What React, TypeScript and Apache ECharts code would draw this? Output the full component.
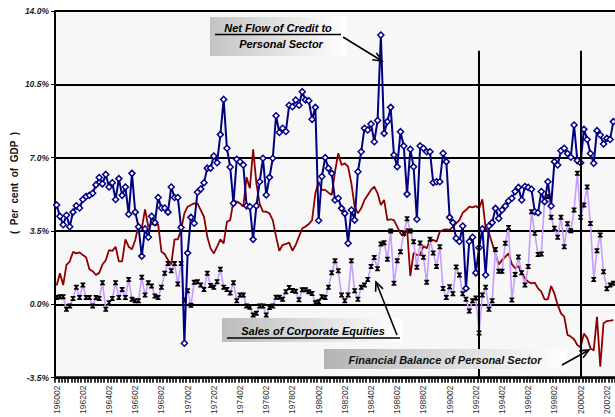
import React, { useEffect, useRef } from "react";
import * as echarts from "echarts";

// ---- categories: quarters 1960Q2 .. 2002Q4, labelled YYYY0Q ----
const START_YEAR = 1960;
const START_QUARTER = 2;
const QUARTER_COUNT = 171;
const categories: string[] = [];
for (let i = 0; i < QUARTER_COUNT; i++) {
  const q = START_QUARTER - 1 + i;
  categories.push(`${START_YEAR + Math.floor(q / 4)}0${(q % 4) + 1}`);
}

const yTicks = [-3.5, 0, 3.5, 7, 10.5, 14];

// Net Flow of Credit to Personal Sector (% of GDP)
const netCredit = [
  4.74, 4.2, 3.8, 4.25, 3.7, 4.4, 4.7, 4.6, 5.0, 5.15,
  5.2, 5.3, 5.7, 6.05, 5.75, 6.2, 5.6, 5.8, 5.0, 6.0,
  5.2, 5.6, 4.3, 6.25, 4.4, 3.7, 2.3, 3.6, 3.2, 4.2,
  3.9, 5.1, 4.6, 4.6, 4.4, 5.6, 5.1, 5.1, 3.67, -1.86,
  2.45, 4.15, 3.87, 5.35, 5.5, 5.8, 6.5, 6.5, 7.08, 6.76,
  8.1, 9.78, 7.45, 6.55, 4.82, 6.92, 6.8, 6.65, 4.7, 4.66,
  3.1, 4.7, 5.85, 6.97, 5.22, 6.06, 6.97, 9.0, 8.2, 8.4,
  8.25, 9.5, 9.43, 9.75, 9.5, 10.15, 9.75, 9.72, 8.83, 9.4,
  4.0, 6.1, 7.0, 6.49, 6.25, 4.98, 5.06, 4.58, 4.34, 2.91,
  4.5, 4.02, 6.33, 7.28, 8.4, 8.32, 8.61, 7.76, 8.77, 12.85,
  8.16, 8.72, 9.4, 7.13, 6.57, 8.24, 7.56, 5.26, 7.4, 6.57,
  4.06, 7.56, 7.45, 7.28, 7.28, 5.81, 5.85, 5.85, 7.21, 6.81,
  4.15, 3.9, 3.15, 3.0, 3.74, 0.76, 3.0, 3.2, 1.5, 2.7,
  3.6, 1.4, 3.74, 3.9, 4.58, 4.1, 4.5, 4.69, 4.93, 5.06,
  5.38, 5.58, 4.98, 5.62, 5.58, 5.49, 4.42, 4.37, 5.38, 4.9,
  5.85, 4.69, 6.81, 6.65, 7.33, 7.45, 7.2, 7.02, 8.56, 6.86,
  6.76, 8.35, 7.87, 7.2, 6.73, 8.29, 8.08, 7.65, 7.92, 7.87,
  8.72,
];

// Financial Balance of Personal Sector (% of GDP)
const financialBalance = [
  0.9, 1.48, 0.92, 1.88, 2.04, 2.5, 2.43, 2.48, 2.35, 2.25,
  1.67, 1.58, 1.4, 1.5, 1.9, 2.1, 2.59, 2.55, 2.75, 2.05,
  2.05, 3.1, 2.75, 2.62, 3.07, 3.78, 3.62, 4.53, 3.7, 3.85,
  3.78, 3.83, 2.51, 2.4, 2.11, 1.9, 3.1, 3.1, 3.54, 4.34,
  4.66, 4.74, 4.82, 4.82, 4.5, 4.18, 3.23, 2.67, 2.43, 2.75,
  3.1, 2.91, 3.94, 4.02, 4.95, 4.9, 4.82, 4.66, 6.06, 5.54,
  7.4, 5.77, 4.79, 4.42, 4.42, 4.34, 4.02, 3.23, 2.56, 2.83,
  2.88, 2.94, 2.56, 2.83, 3.23, 3.63, 3.71, 3.83, 4.02, 5.3,
  5.85, 5.46, 5.46, 5.33, 5.22, 6.33, 7.21, 6.65, 6.73, 6.57,
  5.77, 4.66, 4.34, 4.58, 4.98, 5.22, 5.46, 5.62, 5.3, 4.74,
  4.98, 4.02, 4.06, 4.02, 3.71, 3.39, 3.23, 3.63, 1.35, 2.46,
  2.35, 2.35, 2.78, 2.67, 3.07, 3.07, 2.99, 3.47, 3.55, 3.58,
  3.55, 3.7, 3.86, 4.02, 4.37, 4.5, 4.66, 4.63, 4.69, 4.58,
  5.01, 3.63, 3.4, 2.9, 2.4, 1.9, 2.11, 2.27, 2.43, 1.92,
  1.72, 1.83, 1.48, 1.24, 1.08, 1.0, 1.03, 0.76, 0.6, 0.24,
  0.24, 0.87, 0.52, -0.03, -0.43, -0.59, -1.46, -1.54, -1.67, -1.94,
  -2.05, -1.4, -1.6, -2.1, -2.2, -0.6, -2.98, -0.9, -0.8, -0.78,
  -0.75,
];

// Sales of Corporate Equities (% of GDP)
const corporateEquities = [
  0.33, 0.36, 0.36, -0.24, -0.08, 0.28, 0.81, 0.33, 0.92, 0.33,
  0.33, -0.08, 0.33, 0.28, 1.03, -0.24, 0.08, 0.28, 1.03, 0.33,
  0.71, 0.33, 1.19, 0.24, 0.17, 0.17, 1.29, 0.44, 1.03, 0.87,
  0.4, 0.33, 0.81, 1.48, 1.95, 1.6, 1.95, 0.97, 1.95, 0.2,
  0.65, -0.05, 1.05, 1.08, 0.92, 0.71, 1.48, 0.9, 0.82, 1.08,
  1.67, 0.82, 0.71, 0.54, 1.03, 0.17, 0.44, 0.44, -0.08, -0.14,
  -0.51, -0.43, -0.08, -0.08, -0.51, -0.15, -0.08, 0.34, 0.34, 0.24,
  0.6, 0.8, 0.66, 0.62, 0.22, 0.7, 0.7, 0.6, 0.52, 0.08,
  0.12, 0.36, 0.33, 0.81, 1.51, 2.08, 1.6, 0.44, 0.17, 0.44,
  2.08, 0.65, 0.24, 0.81, 0.92, 1.19, 1.8, 2.24, 1.7, 2.88,
  2.94, 2.15, 3.5, 1.0, 2.08, 2.51, 3.39, 4.08, 3.5, 2.99,
  1.77, 2.93, 2.25, 1.05, 3.1, 2.45, 1.8, 2.75, 0.76, 0.32,
  0.84, 0.5, 1.78, 1.4, 0.5, 0.24, -0.32, 0.17, 0.3, -1.37,
  0.44, 0.81, -0.24, 0.17, 2.62, 1.58, 1.58, 2.91, 3.67, 0.2,
  1.42, 2.26, 1.51, 0.92, 1.8, 4.42, 3.39, 2.38, 2.4, 5.01,
  5.14, 4.16, 3.63, 3.2, 4.16, 2.75, 3.85, 3.51, 4.5, 6.26,
  4.15, 4.74, 5.6, 3.86, 1.19, 2.56, 3.31, 1.56, 0.74, 0.92,
  1.0,
];

// vertical reference lines (quarters) and their top value
const markerQuarters = ["199203", "200002"];
const markerTop = 12.1;

const FONT = "Liberation Sans, Arial, Helvetica, sans-serif";
const STAR = "path://M0,0L10,0L10,2L6.6,5L10,8L10,10L0,10L0,8L3.4,5L0,2Z";

function arrow(x1: number, y1: number, x2: number, y2: number): any[] {
  const dx = x2 - x1;
  const dy = y2 - y1;
  const len = Math.sqrt(dx * dx + dy * dy);
  const ux = dx / len;
  const uy = dy / len;
  const hl = 9;
  const hw = 4;
  const bx = x2 - ux * hl;
  const by = y2 - uy * hl;
  const px = -uy * hw;
  const py = ux * hw;
  return [
    {
      type: "line",
      z: 100,
      shape: { x1, y1, x2, y2 },
      style: { stroke: "#000", lineWidth: 1.6 },
    },
    {
      type: "polyline",
      z: 100,
      shape: { points: [[bx + px, by + py], [x2, y2], [bx - px, by - py]] },
      style: { stroke: "#000", lineWidth: 1.6, fill: null },
    },
  ];
}

function grad(dark: string) {
  return new echarts.graphic.LinearGradient(0, 0, 1, 0, [
    { offset: 0, color: dark },
    { offset: 1, color: "#ffffff" },
  ]);
}

const labelFont = `italic bold 11px ${FONT}`;

export default function App() {
  const ref = useRef<HTMLDivElement>(null);
  useEffect(() => {
    if (!ref.current) return;
    const chart = echarts.init(ref.current, undefined, { renderer: "svg" });
    const option: any = {
      animation: false,
      backgroundColor: "#ffffff",
      grid: {
        left: 55,
        top: 11,
        width: 563.4,
        height: 367,
        show: true,
        backgroundColor: "#f7f7f7",
        borderWidth: 0,
        containLabel: false,
      },
      xAxis: {
        type: "category",
        data: categories,
        boundaryGap: true,
        axisLine: { show: true, onZero: false, lineStyle: { color: "#000", width: 2.5 } },
        axisTick: {
          show: true,
          interval: 0,
          length: 5,
          lineStyle: { color: "#000", width: 1.6 },
        },
        axisLabel: {
          interval: 7,
          rotate: 90,
          fontSize: 8.5,
          color: "#333",
          fontFamily: FONT,
          margin: 8,
        },
        splitLine: { show: false },
      },
      yAxis: {
        type: "value",
        min: yTicks[0],
        max: yTicks[yTicks.length - 1],
        interval: 3.5,
        axisLine: { show: true, lineStyle: { color: "#000", width: 2 } },
        axisTick: { show: true, length: 4, lineStyle: { color: "#000", width: 1 } },
        axisLabel: {
          formatter: (v: number) => `${v.toFixed(1)}%`,
          fontStyle: "italic",
          fontWeight: "bold",
          fontSize: 8.5,
          color: "#222",
          fontFamily: FONT,
          margin: 6,
        },
        splitLine: { show: true, lineStyle: { color: "#000", width: 1.8 } },
      },
      series: [
        {
          name: "Financial Balance of Personal Sector",
          type: "line",
          data: financialBalance,
          symbol: "none",
          lineStyle: { color: "#8b0000", width: 1.8 },
          z: 2,
        },
        {
          name: "Sales of Corporate Equities",
          type: "line",
          data: corporateEquities,
          symbol: STAR,
          symbolSize: [5, 5],
          showAllSymbol: true,
          lineStyle: { color: "#c89bff", width: 1.6 },
          itemStyle: { color: "#000", borderWidth: 0 },
          z: 3,
        },
        {
          name: "Net Flow of Credit to Personal Sector",
          type: "line",
          data: netCredit,
          symbol: "diamond",
          symbolSize: 6,
          showAllSymbol: true,
          lineStyle: { color: "#000080", width: 2 },
          itemStyle: { color: "#ffffff", borderColor: "#000080", borderWidth: 1.5 },
          z: 4,
          markLine: {
            silent: true,
            symbol: "none",
            label: { show: false },
            lineStyle: { color: "#000", width: 2, type: "solid" },
            data: markerQuarters.map((q) => [
              { xAxis: q, yAxis: yTicks[0] },
              { xAxis: q, yAxis: markerTop },
            ]),
          },
        },
      ],
      graphic: [
        // y-axis title
        {
          type: "text",
          x: 14,
          y: 183,
          rotation: Math.PI / 2,
          z: 100,
          style: {
            text: "(  Per  cent  of  GDP  )",
            font: `bold 10px ${FONT}`,
            fill: "#111",
            align: "center",
            verticalAlign: "middle",
          },
        },
        // box 1
        {
          type: "rect",
          z: 90,
          shape: { x: 210, y: 17, width: 137, height: 39 },
          style: { fill: grad("#c4c4c4") },
        },
        {
          type: "text",
          z: 100,
          x: 278,
          y: 28,
          style: { text: "Net Flow of Credit to", font: labelFont, fill: "#000", align: "center", verticalAlign: "middle" },
        },
        {
          type: "line",
          z: 100,
          shape: { x1: 215, y1: 34.5, x2: 341, y2: 34.5 },
          style: { stroke: "#000", lineWidth: 1.5 },
        },
        {
          type: "text",
          z: 100,
          x: 281,
          y: 44,
          style: { text: "Personal Sector", font: labelFont, fill: "#000", align: "center", verticalAlign: "middle" },
        },
        ...arrow(343, 37, 382, 61),
        // box 2
        {
          type: "rect",
          z: 90,
          shape: { x: 222, y: 318, width: 180, height: 24 },
          style: { fill: grad("#bcbcbc") },
        },
        {
          type: "text",
          z: 100,
          x: 313,
          y: 331,
          style: { text: "Sales of Corporate Equities", font: labelFont, fill: "#000", align: "center", verticalAlign: "middle" },
        },
        {
          type: "line",
          z: 100,
          shape: { x1: 227, y1: 338, x2: 400, y2: 338 },
          style: { stroke: "#000", lineWidth: 1.5 },
        },
        ...arrow(397, 335, 376, 282),
        // box 3
        {
          type: "rect",
          z: 90,
          shape: { x: 324, y: 349, width: 243, height: 20 },
          style: { fill: grad("#b4b4b4") },
        },
        {
          type: "text",
          z: 100,
          x: 445,
          y: 359.5,
          style: {
            text: "Financial Balance of Personal Sector",
            font: labelFont,
            fill: "#111",
            align: "center",
            verticalAlign: "middle",
          },
        },
        ...arrow(562, 365, 589, 350),
      ],
    };
    chart.setOption(option);
    return () => chart.dispose();
  }, []);
  return (
    <div
      ref={ref}
      style={{ position: "fixed", left: 0, top: 0, width: 615, height: 417 }}
    />
  );
}
